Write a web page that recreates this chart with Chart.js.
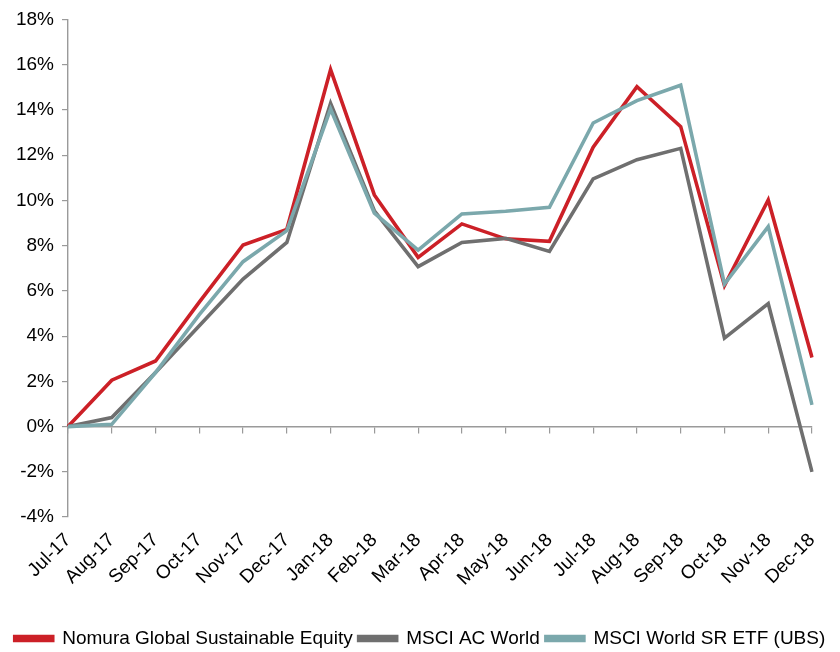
<!DOCTYPE html>
<html>
<head>
<meta charset="utf-8">
<script src="https://cdn.jsdelivr.net/npm/chart.js@4.4.1/dist/chart.umd.min.js"></script>
<style>
  body { margin: 0; background: #fff; }
  #wrap { width: 840px; height: 652px; }
</style>
</head>
<body>
<div id="wrap"><canvas id="myChart" width="840" height="652"></canvas></div>
<script>
const meses = ["Jul-17", "Aug-17", "Sep-17", "Oct-17", "Nov-17", "Dec-17", "Jan-18", "Feb-18", "Mar-18",
  "Apr-18", "May-18", "Jun-18", "Jul-18", "Aug-18", "Sep-18", "Oct-18", "Nov-18", "Dec-18"];

const nomura = [0, 2.05, 2.9, 5.5, 8.03, 8.72, 15.78, 10.24, 7.48, 8.96, 8.3, 8.19, 12.35, 15.03, 13.26, 6.23, 10.02, 3.05];
const msciAcWorld = [0, 0.4, 2.39, 4.46, 6.52, 8.14, 14.29, 9.54, 7.07, 8.14, 8.32, 7.74, 10.95, 11.8, 12.3, 3.91, 5.44, -2.0];
const msciWorldSr = [0, 0.1, 2.39, 4.95, 7.29, 8.66, 14.04, 9.44, 7.8, 9.4, 9.52, 9.69, 13.42, 14.41, 15.09, 6.3, 8.84, 0.96];

const fonte = { family: "'Liberation Sans', Arial, sans-serif", size: 19 };
const corEixo = "#9a9a9a";

Chart.defaults.color = "#000";

const ctx = document.getElementById("myChart");

new Chart(ctx, {
  type: "line",
  data: {
    labels: meses,
    datasets: [
      { label: "Nomura Global Sustainable Equity", data: nomura, borderColor: "#cc2027", backgroundColor: "#cc2027", order: 3 },
      { label: "MSCI AC World", data: msciAcWorld, borderColor: "#6f6f6f", backgroundColor: "#6f6f6f", order: 2 },
      { label: "MSCI World SR ETF (UBS)", data: msciWorldSr, borderColor: "#7ba8ac", backgroundColor: "#7ba8ac", order: 1 },
    ],
  },
  options: {
    responsive: false,
    animation: false,
    layout: { padding: { top: 9, left: 0, right: 0, bottom: -6 } },
    elements: {
      line: { borderWidth: 3.6, tension: 0 },
      point: { radius: 0 },
    },
    scales: {
      x: {
        type: "category",
        position: { y: 0 },
        offset: false,
        ticks: { display: false },
        grid: { drawOnChartArea: false, drawTicks: true, tickLength: 6, color: corEixo, lineWidth: 1.2 },
        border: { color: corEixo, width: 1.4 },
      },
      x2: {
        type: "category",
        position: "bottom",
        offset: false,
        ticks: { font: fonte, minRotation: 45, maxRotation: 45, autoSkip: false, padding: 4 },
        grid: { display: false },
        border: { display: false },
        // mais espaço entre os rótulos e a legenda
        afterFit: (escala) => { escala.height += 29; },
      },
      y: {
        min: -4,
        max: 18,
        ticks: { stepSize: 2, font: fonte, padding: 8, callback: (v) => v + "%" },
        grid: { drawOnChartArea: false, drawTicks: true, tickLength: 6, color: corEixo, lineWidth: 1.2 },
        border: { color: corEixo, width: 1.4 },
        afterFit: (escala) => { escala.width = 68; },
      },
      // espaço vazio à direita do gráfico
      yDireita: {
        position: "right",
        ticks: { display: false },
        grid: { display: false },
        border: { display: false },
        afterFit: (escala) => { escala.width = 28; },
      },
    },
    plugins: {
      legend: {
        position: "bottom",
        labels: {
          font: fonte,
          boxWidth: 38,
          boxHeight: 4,
          padding: 6,
          sort: (a, b) => a.datasetIndex - b.datasetIndex,
        },
      },
      tooltip: { enabled: false },
    },
  },
});
</script>
</body>
</html>
